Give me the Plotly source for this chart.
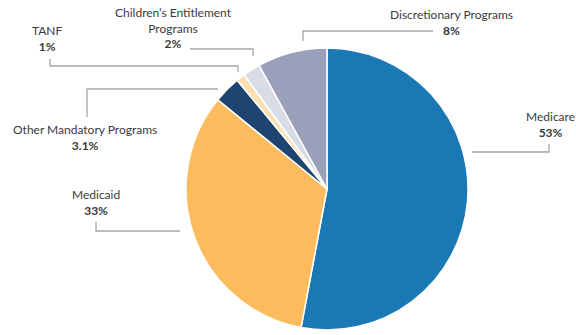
import plotly.graph_objects as go

categories = ["Medicare", "Medicaid", "Other Mandatory Programs", "TANF",
              "Children’s Entitlement Programs", "Discretionary Programs"]
values = [53, 33, 3.1, 1, 2, 8]
value_labels = ["53%", "33%", "3.1%", "1%", "2%", "8%"]
colors = ["#1a78b5", "#fcbb5c", "#1e4470", "#fde0b2", "#d8dce7", "#9aa0b9"]

W, H = 576, 335
def px(x):
    return x / W
def py(y):
    return 1 - y / H

fig = go.Figure()
cx, cy, r = 327, 189, 141
fig.add_trace(go.Pie(
    labels=categories, values=values, sort=False, direction="clockwise",
    rotation=0, textinfo="none", hoverinfo="label+percent",
    marker=dict(colors=colors, line=dict(color="white", width=1.5)),
    domain=dict(x=[px(cx - r), px(cx + r)], y=[py(cy + r), py(cy - r)]),
    showlegend=False,
))

label_text = {
    "Medicare": "Medicare",
    "Medicaid": "Medicaid",
    "Other Mandatory Programs": "Other Mandatory Programs",
    "TANF": "TANF",
    "Children’s Entitlement Programs": "Children’s Entitlement<br>Programs",
    "Discretionary Programs": "Discretionary Programs",
}
label_pos = {
    "Medicare": (550, 124),
    "Medicaid": (96, 202),
    "Other Mandatory Programs": (85, 137),
    "TANF": (47, 38),
    "Children’s Entitlement Programs": (173, 28),
    "Discretionary Programs": (451, 22),
}
leaders = {
    "Medicare": [(472, 152), (549, 152), (549, 144)],
    "Medicaid": [(96, 222), (96, 231), (180, 231)],
    "Other Mandatory Programs": [(87, 117), (87, 89), (218, 89)],
    "TANF": [(50, 59), (50, 66), (238, 66), (238, 72)],
    "Children’s Entitlement Programs": [(190, 49), (253, 49), (253, 56)],
    "Discretionary Programs": [(303, 41), (303, 31), (433, 31)],
}

annotations = []
shapes = []
for cat, val in zip(categories, value_labels):
    x, y = label_pos[cat]
    annotations.append(dict(
        x=px(x), y=py(y), xref="paper", yref="paper",
        text=f"{label_text[cat]}<br><b>{val}</b>", showarrow=False,
        xanchor="center", yanchor="middle", align="center",
        font=dict(family="Lato, Open Sans, sans-serif", size=12, color="#3a3a3a"),
    ))
    pts = leaders[cat]
    path = "M " + " L ".join(f"{px(a)},{py(b)}" for a, b in pts)
    shapes.append(dict(type="path", path=path, xref="paper", yref="paper",
                       line=dict(color="#a6a6a6", width=1.3)))

fig.update_layout(
    width=W, height=H, margin=dict(l=0, r=0, t=0, b=0),
    paper_bgcolor="white", plot_bgcolor="white",
    annotations=annotations, shapes=shapes,
)

fig.write_html("out.html")
